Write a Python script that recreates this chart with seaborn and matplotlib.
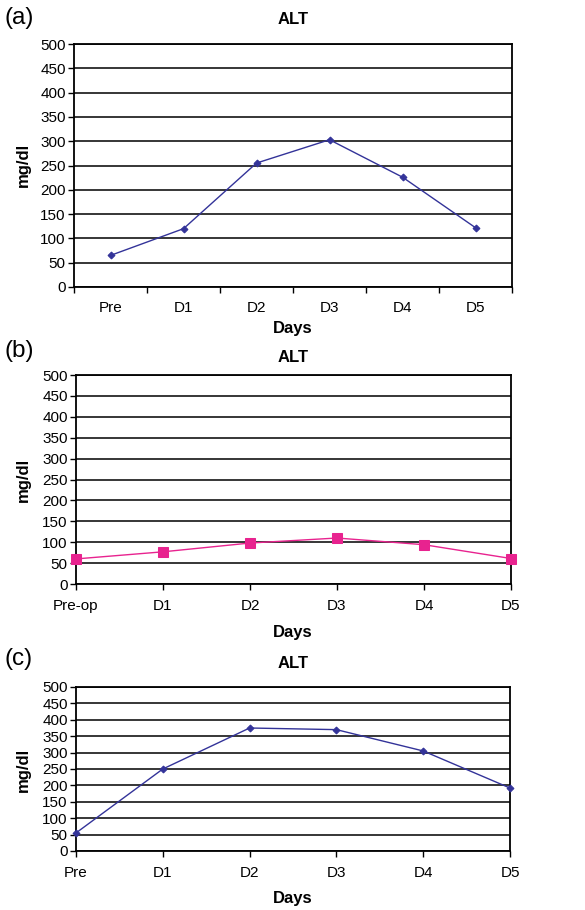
import matplotlib
matplotlib.use("Agg")
import matplotlib.pyplot as plt
import seaborn as sns
import pandas as pd

# data
days_a = ["Pre", "D1", "D2", "D3", "D4", "D5"]
alt_a = [65, 120, 255, 303, 226, 122]

days_b = ["Pre-op", "D1", "D2", "D3", "D4", "D5"]
alt_b = [60, 77, 98, 110, 94, 61]

days_c = ["Pre", "D1", "D2", "D3", "D4", "D5"]
alt_c = [55, 250, 375, 370, 305, 192]

y_ticks = list(range(0, 501, 50))

sns.set_theme(style="white")
plt.rcParams["font.family"] = ["Liberation Sans", "DejaVu Sans"]
plt.rcParams["text.color"] = "black"
plt.rcParams["xtick.color"] = "black"
plt.rcParams["ytick.color"] = "black"
plt.rcParams["axes.labelcolor"] = "black"

NAVY = "#333399"
PINK = "#E8238F"

fig = plt.figure(figsize=(5.85, 9.1), dpi=100)
W, H = 585.0, 910.0


def px_axes(left, top, right, bottom):
    return fig.add_axes([left / W, 1 - bottom / H, (right - left) / W, (bottom - top) / H])


def style_axes(ax):
    ax.set_ylim(0, 500)
    ax.set_yticks(y_ticks)
    ax.yaxis.grid(True, color="black", linewidth=1.1)
    ax.set_axisbelow(True)
    for s in ax.spines.values():
        s.set_color("black")
        s.set_linewidth(1.3)
    ax.tick_params(axis="y", which="major", direction="out", length=4, width=1.0,
                   color="black", labelcolor="black", labelsize=11, pad=2, left=True)
    ax.set_xlabel("")
    ax.set_ylabel("")


def draw_panel(ax, days, vals, color, marker, msize, centered):
    df = pd.DataFrame({"x": range(len(days)), "alt": vals})
    sns.lineplot(data=df, x="x", y="alt", ax=ax, color=color, linewidth=1.0,
                 marker=marker, markersize=msize, markeredgecolor=color,
                 markerfacecolor=color, legend=False)
    for ln in ax.lines:
        ln.set_clip_on(False)
        ln.set_zorder(3)
    style_axes(ax)
    n = len(days)
    if centered:
        ax.set_xlim(-0.5, n - 0.5)
        ax.set_xticks(range(n))
        ax.set_xticklabels(days)
        ax.set_xticks([i - 0.5 for i in range(n + 1)], minor=True)
        ax.tick_params(axis="x", which="major", length=0, labelsize=11, pad=10,
                       labelcolor="black")
        ax.tick_params(axis="x", which="minor", direction="out", length=4, width=1.0,
                       color="black", bottom=True)
    else:
        ax.set_xlim(0, n - 1)
        ax.set_xticks(range(n))
        ax.set_xticklabels(days)
        ax.tick_params(axis="x", which="major", direction="out", length=4, width=1.0,
                       color="black", labelcolor="black", labelsize=11, pad=7, bottom=True)


def panel_text(tag, tag_y, title_y, days_y, ylab_y):
    fig.text(4 / W, 1 - tag_y / H, tag, fontsize=17.5, va="center", ha="left")
    fig.text(293 / W, 1 - title_y / H, "ALT", fontsize=12, fontweight="bold",
             ha="center", va="center")
    fig.text(293 / W, 1 - days_y / H, "Days", fontsize=12, fontweight="bold",
             ha="center", va="center")
    fig.text(23 / W, 1 - ylab_y / H, "mg/dl", fontsize=12, fontweight="bold", rotation=90,
             ha="center", va="center")


# panel (a)
ax_a = px_axes(74, 44, 512, 287)
draw_panel(ax_a, days_a, alt_a, NAVY, "D", 3.5, True)
panel_text("(a)", 18, 19, 329, 165)

# panel (b)
ax_b = px_axes(76, 375, 511, 584)
draw_panel(ax_b, days_b, alt_b, PINK, "s", 6.5, False)
panel_text("(b)", 351, 358, 632, 480)

# panel (c)
ax_c = px_axes(76, 687, 510, 851)
draw_panel(ax_c, days_c, alt_c, NAVY, "D", 3.5, False)
panel_text("(c)", 659, 663, 898, 770)

fig.savefig("out.png", dpi=100, facecolor="white")
